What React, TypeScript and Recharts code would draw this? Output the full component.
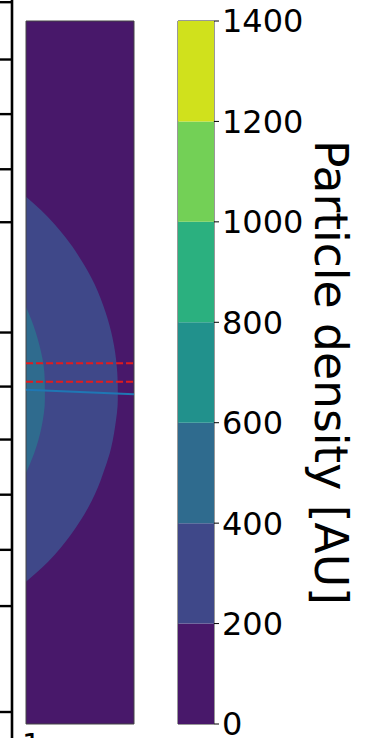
import React from 'react';
import {
  ComposedChart,
  BarChart,
  Bar,
  Area,
  XAxis,
  YAxis,
  CartesianGrid,
  ReferenceLine,
  ReferenceArea,
} from 'recharts';

const FONT = '"DejaVu Sans", sans-serif';

// ---- main panel: filled contour bands (x-extent of each band at each height) ----
const rowY = [3.25, 3.0, 2.5, 2.0, 1.5, 1.21, 1.0, 0.5, 0.0, -0.3, -0.5, -1.0, -1.5, -1.86, -2.0, -2.5, -3.0, -3.5, -3.87];
const band200 = [0, 0.28, 0.73, 1.07, 1.33, 1.44, 1.51, 1.63, 1.69, 1.7, 1.7, 1.65, 1.55, 1.43, 1.38, 1.15, 0.83, 0.41, 0];
const band400: (number | null)[] = [null, null, null, null, null, 0, 0.09, 0.25, 0.34, 0.35, 0.35, 0.29, 0.15, 0, null, null, null, null, null];

const dashedLevels = [0.17, -0.17];
const trackStart = { x: 0, y: -0.32 };
const trackEnd = { x: 2, y: -0.4 };

const panelX = [0, 2];
const panelY = [-6.5, 6.5];

// ---- colorbar ----
const levels = [0, 200, 400, 600, 800, 1000, 1200, 1400];
const levelColors = ['#48186a', '#3f4889', '#2f6b8e', '#21918c', '#2bb07f', '#73d056', '#d0e11c'];
const cbarTitle = 'Particle density [AU]';

// ---- neighbouring axis (cut off at the left edge) ----
const neighborTicks = [13.0, 11.95, 10.95, 9.94, 8.97, 6.95, 5.96, 4.99, 3.98, 2.97, 1.94, 0.0];
const neighborDomain = [-0.476, 13.04];

const contourRows = rowY.map((y, i) => ({ y, b200: band200[i], b400: band400[i] }));

const cbarRow: Record<string, any> = { name: 'cbar' };
levelColors.forEach((_, i) => {
  cbarRow['s' + i] = levels[i + 1] - levels[i];
});
const cbarRows = [cbarRow];
const neighborRows = neighborTicks.map((v) => ({ v }));

const NoTickLabel = () => <g />;

const CbarLabel = (props: any) => {
  const vb = props && props.viewBox ? props.viewBox : { x: 214, y: 21, width: 60, height: 703 };
  const cx = vb.x + 101;
  const cy = vb.y + vb.height / 2;
  return (
    <text
      x={cx}
      y={cy}
      transform={`rotate(90 ${cx} ${cy})`}
      textAnchor="middle"
      fontSize={45.6}
      fontFamily={FONT}
      fill="#000"
    >
      {cbarTitle}
    </text>
  );
};

export default function App() {
  return (
    <div
      style={{
        position: 'fixed',
        left: 0,
        top: 0,
        width: 369,
        height: 738,
        overflow: 'hidden',
        background: '#fff',
      }}
    >
      {/* neighbouring axis */}
      <div style={{ position: 'absolute', left: -28.5, top: 0 }}>
        <ComposedChart width={60} height={738} data={neighborRows} margin={{ top: 0, right: 0, bottom: 0, left: 0 }}>
          <XAxis hide />
          <YAxis
            type="number"
            dataKey="v"
            domain={neighborDomain}
            allowDataOverflow
            ticks={neighborTicks}
            interval={0}
            tick={NoTickLabel}
            tickSize={13}
            width={40}
            axisLine={{ stroke: '#000', strokeWidth: 2.6 }}
            tickLine={{ stroke: '#000', strokeWidth: 2.4 }}
          />
        </ComposedChart>
      </div>

      {/* main contour panel */}
      <div style={{ position: 'absolute', left: 0, top: 0 }}>
        <ComposedChart
          layout="vertical"
          width={140}
          height={738}
          data={contourRows}
          margin={{ top: 21, right: 6, bottom: 14, left: 26 }}
        >
          <CartesianGrid fill={levelColors[0]} fillOpacity={1} stroke="none" />
          <XAxis type="number" hide domain={panelX} allowDataOverflow />
          <YAxis type="number" dataKey="y" hide domain={panelY} reversed allowDataOverflow />
          <Area
            dataKey="b200"
            type="monotone"
            fill={levelColors[1]}
            fillOpacity={1}
            stroke="none"
            isAnimationActive={false}
            dot={false}
            activeDot={false}
          />
          <Area
            dataKey="b400"
            type="monotone"
            fill={levelColors[2]}
            fillOpacity={1}
            stroke="none"
            isAnimationActive={false}
            dot={false}
            activeDot={false}
          />
          {dashedLevels.map((v) => (
            <ReferenceLine key={v} y={v} stroke="#e41a1c" strokeWidth={2} strokeDasharray="7 3" />
          ))}
          <ReferenceLine segment={[trackStart, trackEnd]} stroke="#1f77b4" strokeWidth={2} />
          <ReferenceArea
            x1={panelX[0]}
            x2={panelX[1]}
            y1={panelY[0]}
            y2={panelY[1]}
            fill="none"
            stroke="#444"
            strokeWidth={1}
          />
        </ComposedChart>
      </div>

      {/* colorbar */}
      <div style={{ position: 'absolute', left: 0, top: 0 }}>
        <BarChart
          width={369}
          height={738}
          data={cbarRows}
          margin={{ top: 21, right: 95, bottom: 14, left: 178 }}
          barCategoryGap={0}
        >
          <XAxis dataKey="name" hide />
          <YAxis
            orientation="right"
            type="number"
            domain={[levels[0], levels[levels.length - 1]]}
            allowDataOverflow
            ticks={levels}
            interval={0}
            tickSize={5}
            tickMargin={3}
            width={60}
            axisLine={false}
            tickLine={{ stroke: '#000', strokeWidth: 1 }}
            tick={{ fill: '#000', fontSize: 32, fontFamily: FONT }}
            label={CbarLabel}
          />
          {levelColors.map((c, i) => (
            <Bar key={i} dataKey={'s' + i} stackId="cb" fill={c} isAnimationActive={false} />
          ))}
          <ReferenceArea
            y1={levels[0]}
            y2={levels[levels.length - 1]}
            fill="none"
            stroke="#333"
            strokeWidth={1}
          />
        </BarChart>
      </div>

      {/* top of a cut-off label below the panel */}
      <div
        style={{
          position: 'absolute',
          left: 22,
          top: 729.5,
          fontSize: 30,
          lineHeight: '30px',
          fontFamily: FONT,
          color: '#000',
        }}
      >
        1
      </div>
    </div>
  );
}
